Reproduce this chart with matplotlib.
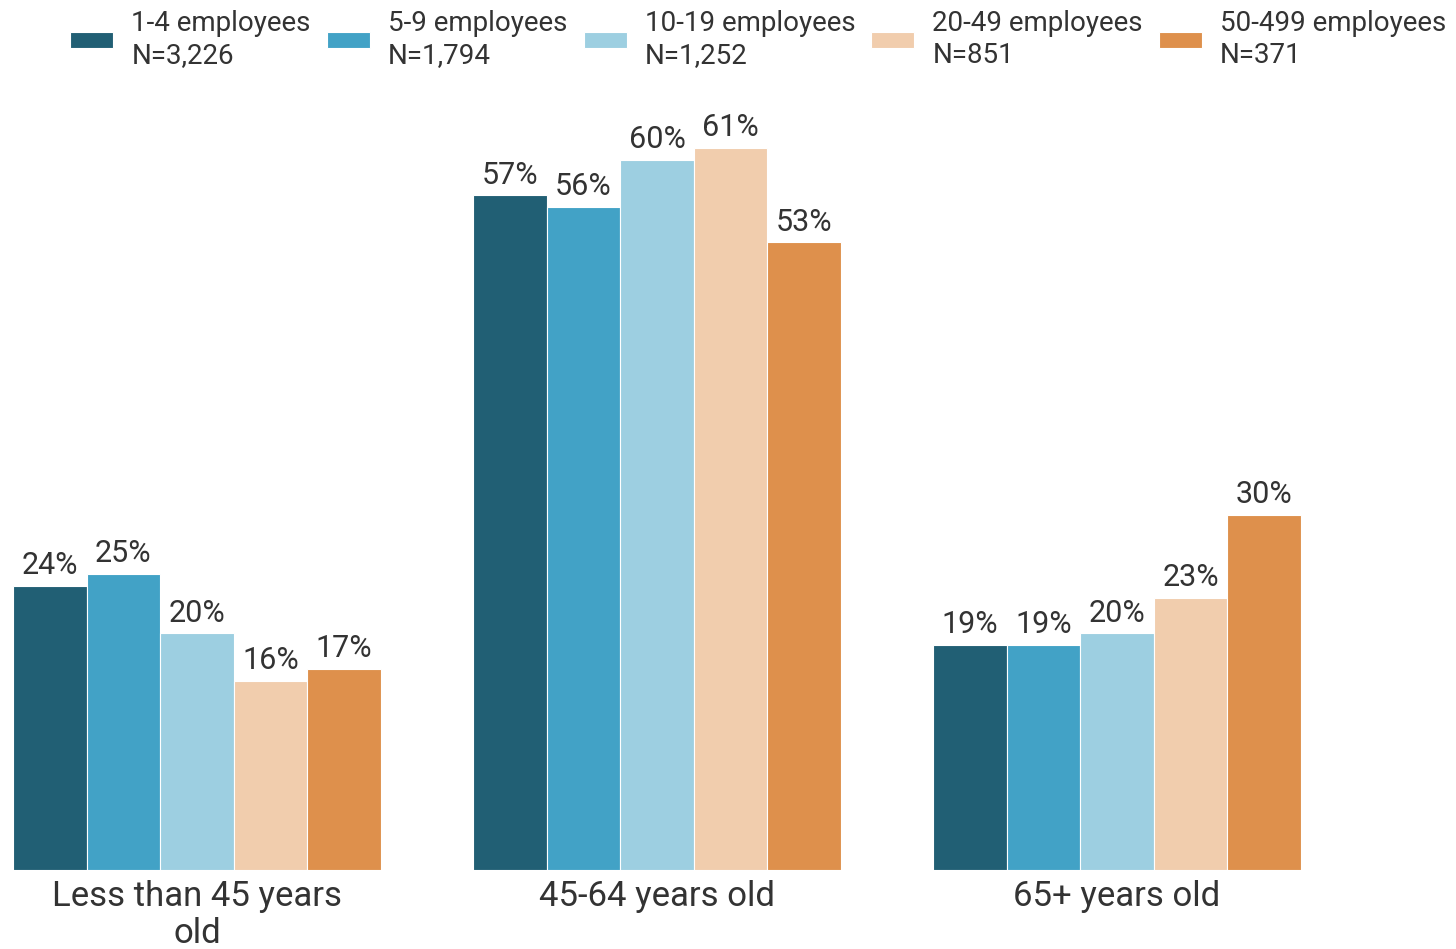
import matplotlib
matplotlib.use("Agg")
import matplotlib.pyplot as plt
import numpy as np

plt.rcParams['font.family'] = ['Roboto', 'DejaVu Sans']

categories = ["Less than 45 years\nold", "45-64 years old", "65+ years old"]
series_names = ["1-4 employees\nN=3,226", "5-9 employees\nN=1,794", "10-19 employees\nN=1,252",
                "20-49 employees\nN=851", "50-499 employees\nN=371"]
values = {
    "1-4 employees\nN=3,226": [24, 57, 19],
    "5-9 employees\nN=1,794": [25, 56, 19],
    "10-19 employees\nN=1,252": [20, 60, 20],
    "20-49 employees\nN=851": [16, 61, 23],
    "50-499 employees\nN=371": [17, 53, 30],
}
colors = ["#215F74", "#42A2C6", "#9DCFE1", "#F1CDAD", "#DE904C"]
text_color = "#333333"

W, H = 1456, 949
fig = plt.figure(figsize=(W / 100, H / 100), dpi=100)
ax = fig.add_axes([0, 79 / H, 1, 770 / H])

x = np.arange(len(categories))
bw = 0.16
px_per_unit = 460.0
ax.set_xlim(-197 / px_per_unit, (W - 197) / px_per_unit)
ax.set_ylim(0, 770 / 11.84)

handles = []
for i, name in enumerate(series_names):
    pos = x + (i - 2) * bw
    bars = ax.bar(pos, values[name], width=bw, color=colors[i], edgecolor="white",
                  linewidth=0.8, label=name)
    handles.append(bars)
    for p, v in zip(pos, values[name]):
        ax.annotate(f"{v}%", (p, v), xytext=(0, 4), textcoords="offset points",
                    ha="center", va="bottom", fontsize=22, color=text_color)

ax.set_xticks(x)
ax.set_xticklabels(categories, fontsize=25, color=text_color, linespacing=1.15)
ax.tick_params(axis="x", length=0, pad=7)
ax.set_yticks([])
for s in ax.spines.values():
    s.set_visible(False)

leg = fig.legend(handles=handles, labels=series_names, loc="upper left", ncol=5,
                 bbox_to_anchor=(62 / W, 1 - 2 / H), frameon=False, fontsize=20,
                 handlelength=1.55, handleheight=0.5, handletextpad=0.65, columnspacing=0.58,
                 borderaxespad=0, borderpad=0.3)
for t in leg.get_texts():
    t.set_color(text_color)
    t.set_linespacing(1.2)

fig.savefig("out.png", dpi=100)
